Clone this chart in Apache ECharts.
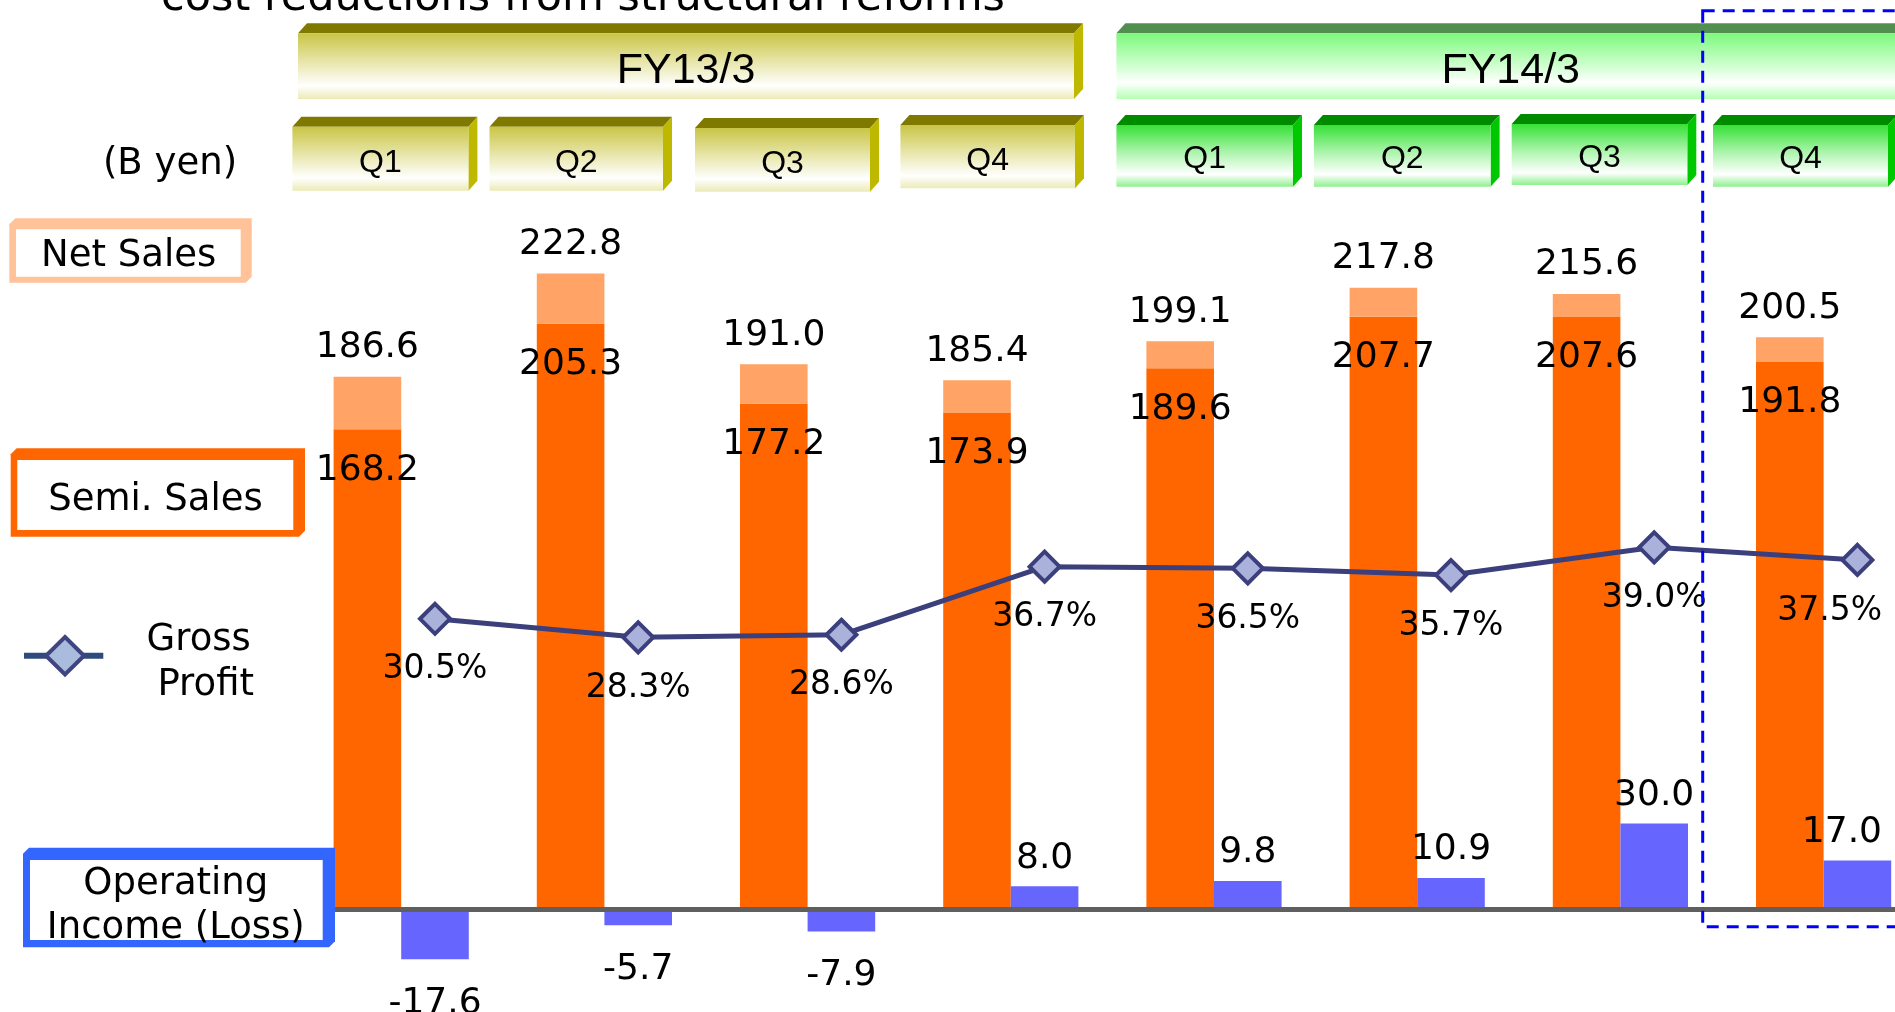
<!DOCTYPE html>
<html>
<head>
<meta charset="utf-8">
<script src="https://cdn.jsdelivr.net/npm/echarts@6/dist/echarts.min.js"></script>
<style>
html,body{margin:0;padding:0;background:#fff;}
#main{width:1895px;height:1012px;}
</style>
</head>
<body>
<div id="main"></div>
<script>
// ---- data ----
const categories = ['FY13/3 Q1','FY13/3 Q2','FY13/3 Q3','FY13/3 Q4','FY14/3 Q1','FY14/3 Q2','FY14/3 Q3','FY14/3 Q4'];
const fiscalYears = ['FY13/3','FY14/3'];
const quarterLabels = ['Q1','Q2','Q3','Q4','Q1','Q2','Q3','Q4'];
const netSales = [186.6, 222.8, 191.0, 185.4, 199.1, 217.8, 215.6, 200.5];
const semiSales = [168.2, 205.3, 177.2, 173.9, 189.6, 207.7, 207.6, 191.8];
const grossMargin = [30.5, 28.3, 28.6, 36.7, 36.5, 35.7, 39.0, 37.5];
const opIncome = [-17.6, -5.7, -7.9, 8.0, 9.8, 10.9, 30.0, 17.0];
const titleText = 'cost reductions from structural reforms';
const unitText = '(B yen)';
const legendNet = 'Net Sales';
const legendSemi = 'Semi. Sales';
const legendGross = ['Gross', 'Profit'];
const legendOp = ['Operating', 'Income (Loss)'];

// ---- styles ----
const VFONT = 'DejaVu Sans';
const AFONT = 'Liberation Sans, Arial';
const OLIVE = {front: [[0,'#C9C546'],[0.45,'#E9E7AE'],[0.8,'#FFFFFF'],[1,'#ECEAB6']], top:'#7F7900', side:'#BEB800'};
const GREENBIG = {front: [[0,'#7DF87D'],[0.45,'#C8FFC8'],[0.75,'#FFFFFF'],[1,'#B5FFB5']], top:'#518F51', side:'#55C055'};
const GREEN = {front: [[0,'#36E036'],[0.45,'#AEF5AE'],[0.8,'#FFFFFF'],[1,'#8FF08F']], top:'#008A00', side:'#00C800'};
const RIGHT_LIMIT = 1882;
const PCT_LABEL_DY = 51;

function grad(stops){
  return new echarts.graphic.LinearGradient(0,0,0,1, stops.map(s=>({offset:s[0], color:s[1]})));
}
function box3d(x0, x1, y0, y1, pal, text, fontSize, ty){
  const d = 9, e = 10;
  return [
    {type:'polygon', z:50, shape:{points:[[x0,y0],[x0+d,y0-e],[x1+d,y0-e],[x1,y0]]}, style:{fill:pal.top}},
    {type:'polygon', z:50, shape:{points:[[x1,y0],[x1+d,y0-e],[x1+d,y1-e],[x1,y1]]}, style:{fill:pal.side}},
    {type:'rect', z:50, shape:{x:x0, y:y0, width:x1-x0, height:y1-y0}, style:{fill:grad(pal.front)}},
    {type:'text', z:51, x:(x0+x1)/2, y:ty, style:{text:text, font:fontSize+'px '+AFONT, fill:'#000', align:'center', verticalAlign:'middle'}}
  ];
}
function legendBox(x0, y0, x1, y1, ix0, iy0, ix1, iy1, color){
  const c = 6;
  return [
    {type:'polygon', z:60, shape:{points:[[x0+c,y0],[x1,y0],[x1,y1-c],[x1-c,y1],[x0,y1],[x0,y0+c]]}, style:{fill:color}},
    {type:'rect', z:61, shape:{x:ix0, y:iy0, width:ix1-ix0, height:iy1-iy0}, style:{fill:'#fff'}}
  ];
}
function txt(t, x, y, size, font){
  return {type:'text', z:62, x:x, y:y, style:{text:t, font:size+'px '+(font||VFONT), fill:'#000', align:'center', verticalAlign:'middle'}};
}
function keepInside(params){
  const r = params.labelRect;
  if (r.x + r.width > RIGHT_LIMIT) return {dx: RIGHT_LIMIT - (r.x + r.width)};
  return {};
}
function pctLayout(params){
  const r = params.labelRect;
  const res = {dy: PCT_LABEL_DY};
  if (r.x + r.width > RIGHT_LIMIT) res.dx = RIGHT_LIMIT - (r.x + r.width);
  return res;
}

const netExtra = netSales.map((v,i)=>Math.round((v - semiSales[i])*10)/10);

let g = [];
g.push(txt(titleText, 583, -1.5, 43));
g = g.concat(box3d(298, 1074, 33.3, 99, OLIVE, fiscalYears[0], 43, 71));
g = g.concat(box3d(1116.4, 1905, 33.3, 99, GREENBIG, fiscalYears[1], 43, 71));
const qBoxes = [
  [292.4, 468.4, 126.7, 190.7, OLIVE, 163.5],
  [489.5, 663, 126.7, 190.7, OLIVE, 163.5],
  [695, 870, 128, 191.7, OLIVE, 164.5],
  [900.4, 1075, 125, 188.3, OLIVE, 161.5],
  [1116.4, 1293, 125, 186.7, GREEN, 159.5],
  [1313.9, 1490.6, 125, 186.7, GREEN, 159.5],
  [1511.7, 1687.3, 124, 185, GREEN, 158.5],
  [1713, 1888, 125, 186.7, GREEN, 159.5]
];
qBoxes.forEach((b,i)=>{ g = g.concat(box3d(b[0], b[1], b[2], b[3], b[4], quarterLabels[i], 32, b[5])); });
g.push(txt(unitText, 170, 164.5, 37));
// legends
g = g.concat(legendBox(9.3, 218.3, 251.7, 282.7, 16, 229.3, 240.7, 276.7, '#FFC299'));
g.push(txt(legendNet, 128.7, 256.5, 37));
g = g.concat(legendBox(10.7, 448.3, 305, 536.7, 17.3, 460, 293.3, 530, '#FF6600'));
g.push(txt(legendSemi, 155.5, 500, 37));
g.push({type:'line', z:60, shape:{x1:24, y1:655.7, x2:103.3, y2:655.7}, style:{stroke:'#2F4B7D', lineWidth:6}});
g.push({type:'polygon', z:61, shape:{points:[[65,637],[84,655.7],[65,674.4],[46,655.7]]}, style:{fill:'#A9BCDD', stroke:'#3F4580', lineWidth:4}});
g.push(txt(legendGross[0], 198.7, 640.5, 37));
g.push(txt(legendGross[1], 205.7, 685, 37));
g = g.concat(legendBox(23, 847.7, 335, 947.3, 30, 860, 322.7, 940, '#3366FF'));
g.push(txt(legendOp[0], 175.8, 884.5, 37));
g.push(txt(legendOp[1], 175.8, 928, 37));
// dashed highlight
g.push({type:'rect', z:70, shape:{x:1702.7, y:10.7, width:300, height:916}, style:{fill:'none', stroke:'#0000FF', lineWidth:3, lineDash:[12,8]}});

const chart = echarts.init(document.getElementById('main'), null, {renderer:'canvas'});
chart.setOption({
  animation:false,
  backgroundColor:'#fff',
  grid:[
    {left:299.6, width:1625.6, top:224.5, bottom:17.4, outerBoundsMode:'none', containLabel:false},
    {left:333.4, width:1625.6, top:202.5, bottom:136.7, outerBoundsMode:'none', containLabel:false}
  ],
  xAxis:[
    {type:'category', gridIndex:0, data:categories, z:5,
     axisLine:{show:true, onZero:true, lineStyle:{color:'#5F5F5F', width:5}},
     axisTick:{show:false}, axisLabel:{show:false}, splitLine:{show:false}},
    {type:'category', gridIndex:1, data:categories, show:false}
  ],
  yAxis:[
    {type:'value', gridIndex:0, min:-30, max:240, show:false, splitLine:{show:false}},
    {type:'value', gridIndex:1, min:0, max:80, show:false, splitLine:{show:false}}
  ],
  series:[
    {name:'Semi. Sales', type:'bar', stack:'sales', xAxisIndex:0, yAxisIndex:0,
     barWidth:67.6, barGap:'0%', data:semiSales,
     itemStyle:{color:'#FF6600'},
     label:{show:true, position:'insideTop', distance:41, verticalAlign:'middle',
            fontFamily:VFONT, fontSize:36, color:'#000',
            formatter:p=>semiSales[p.dataIndex].toFixed(1)}},
    {name:'Net Sales', type:'bar', stack:'sales', xAxisIndex:0, yAxisIndex:0,
     barWidth:67.6, barGap:'0%', data:netExtra,
     itemStyle:{color:'#FFA366'},
     label:{show:true, position:'top', distance:29, verticalAlign:'middle',
            fontFamily:VFONT, fontSize:36, color:'#000',
            formatter:p=>netSales[p.dataIndex].toFixed(1)}},
    {name:'Operating Income (Loss)', type:'bar', xAxisIndex:0, yAxisIndex:0,
     barWidth:67.6, barGap:'0%',
     data:opIncome.map(v=> v<0 ? {value:v, label:{position:'bottom', distance:44}} : v),
     itemStyle:{color:'#6666FF'},
     labelLayout:keepInside,
     label:{show:true, position:'top', distance:28, verticalAlign:'middle',
            fontFamily:VFONT, fontSize:36, color:'#000',
            formatter:p=>opIncome[p.dataIndex].toFixed(1)}},
    {name:'Gross Profit', type:'line', xAxisIndex:1, yAxisIndex:1, data:grossMargin,
     symbol:'diamond', symbolSize:30, z:10,
     lineStyle:{color:'#3B3F7C', width:5},
     itemStyle:{color:'#AAB2DC', borderColor:'#3B3F7C', borderWidth:4},
     labelLayout:pctLayout,
     label:{show:true, position:'inside', fontFamily:VFONT, fontSize:33, color:'#000',
            formatter:p=>grossMargin[p.dataIndex].toFixed(1)+'%'}}
  ],
  graphic:{elements:g}
});
</script>
</body>
</html>
